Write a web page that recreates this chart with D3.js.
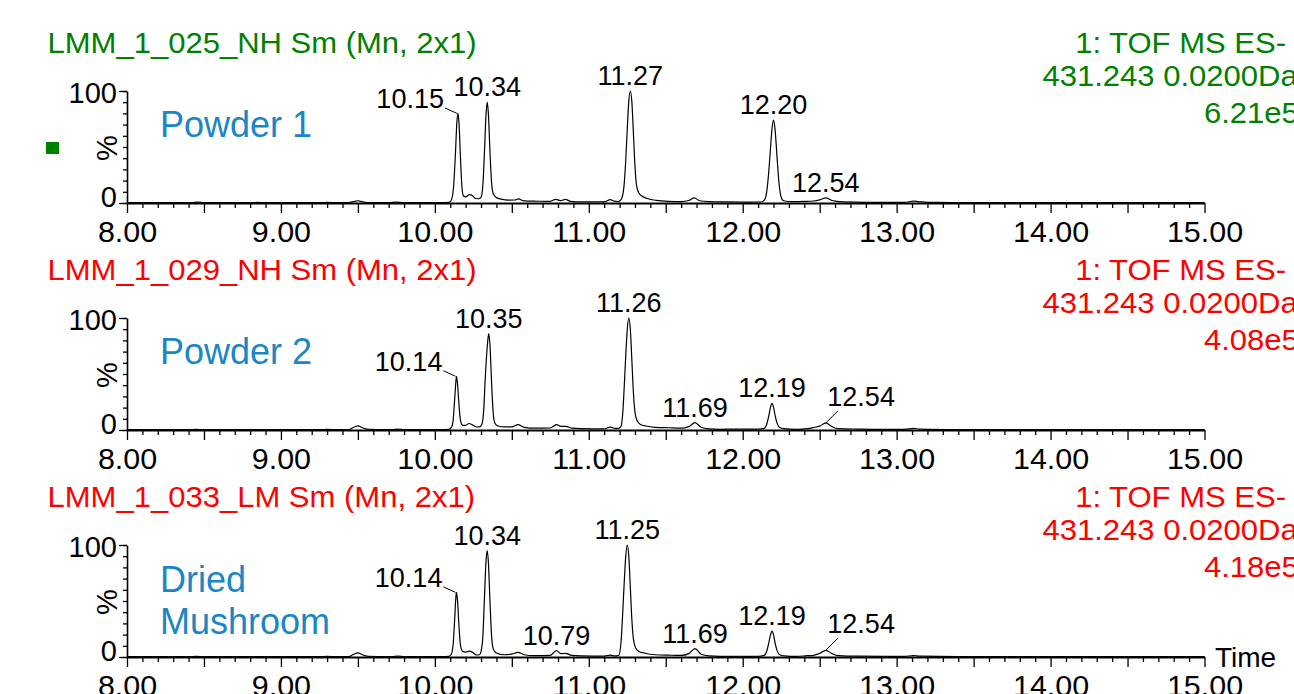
<!DOCTYPE html>
<html><head><meta charset="utf-8">
<script src="https://cdn.jsdelivr.net/npm/d3@7/dist/d3.min.js"></script>
<style>html,body{margin:0;padding:0;background:#fff;overflow:hidden}</style>
</head><body><svg id="chart" width="1294" height="694"></svg>
<script>
// ---------------- data ----------------
const timeTicks = [8, 9, 10, 11, 12, 13, 14, 15];
const timeTickLabels = ["8.00", "9.00", "10.00", "11.00", "12.00", "13.00", "14.00", "15.00"];
const intensityTicks = [0, 100];
const intensityTickLabels = ["0", "100"];
const sampleFiles = ["LMM_1_025_NH Sm (Mn, 2x1)", "LMM_1_029_NH Sm (Mn, 2x1)", "LMM_1_033_LM Sm (Mn, 2x1)"];
const sampleNames = [["Powder 1"], ["Powder 2"], ["Dried", "Mushroom"]];
const functionLabel = "1: TOF MS ES-";
const massWindow = "431.243 0.0200Da";
const maxIntensity = ["6.21e5", "4.08e5", "4.18e5"];
const xAxisTitle = "Time";
const yAxisTitle = "%";

const trace1 = [[8.00,0.3],[8.30,0.3],[8.42,0.4],[8.46,0.8],[8.50,0.3],[8.80,0.3],[8.85,0.6],[8.90,0.3],[9.25,0.3],[9.30,0.6],[9.36,0.3],[9.44,0.3],[9.48,1.5],[9.50,2.0],[9.52,1.4],[9.56,0.4],[9.70,0.3],[9.75,0.8],[9.80,0.3],[10.05,0.3],[10.09,0.5],[10.105,2],[10.12,12],[10.133,42],[10.143,72],[10.15,80],[10.157,71],[10.166,42],[10.175,16],[10.185,6.5],[10.20,5.5],[10.225,7.5],[10.245,6.5],[10.265,4],[10.285,3.8],[10.30,5],[10.312,16],[10.322,45],[10.332,78],[10.34,90],[10.348,79],[10.358,46],[10.368,19],[10.38,8],[10.40,4.8],[10.43,3.5],[10.48,2.6],[10.52,2.7],[10.545,3.6],[10.57,2.2],[10.64,1.6],[10.75,1.5],[10.785,3.3],[10.815,2.2],[10.85,3.2],[10.88,1.5],[10.95,1],[11.10,1],[11.14,3.0],[11.165,1.6],[11.19,1.2],[11.21,3],[11.228,14],[11.24,38],[11.25,66],[11.26,91],[11.27,100],[11.28,90],[11.29,62],[11.30,33],[11.31,16],[11.325,9],[11.345,6.2],[11.38,4],[11.44,2.3],[11.52,1.5],[11.60,1.3],[11.65,2.2],[11.685,4.5],[11.72,2],[11.78,1.3],[11.90,1],[12.05,0.8],[12.12,0.9],[12.14,2.5],[12.155,9],[12.168,26],[12.18,48],[12.19,66],[12.20,74],[12.21,66],[12.222,43],[12.235,19],[12.248,6],[12.265,2],[12.32,1.2],[12.40,1.4],[12.46,1.8],[12.50,2.8],[12.54,4.5],[12.58,2.2],[12.65,1],[12.80,0.6],[13.05,0.6],[13.11,1.6],[13.14,1.3],[13.20,0.6],[13.40,0.4],[14.00,0.3],[15.00,0.3]];

const trace2 = [[8.00,0.3],[8.40,0.3],[8.45,0.6],[8.50,0.3],[9.25,0.3],[9.30,0.5],[9.36,0.3],[9.44,0.4],[9.47,2.2],[9.50,3.6],[9.53,2],[9.57,0.5],[9.72,0.4],[9.76,0.8],[9.80,0.4],[10.05,0.4],[10.09,0.6],[10.105,1.8],[10.118,8],[10.128,26],[10.136,42],[10.14,48],[10.147,42],[10.156,24],[10.166,9],[10.18,4.2],[10.20,4.2],[10.222,5.8],[10.245,4.6],[10.27,2.7],[10.29,2.8],[10.305,5],[10.317,17],[10.327,45],[10.342,77],[10.35,86],[10.358,76],[10.368,44],[10.378,17],[10.39,6],[10.41,3.6],[10.45,2.8],[10.50,2.8],[10.54,4.8],[10.58,2.4],[10.65,1.6],[10.75,1.8],[10.79,4.8],[10.82,3.2],[10.85,3.3],[10.89,1.6],[10.95,1.2],[11.10,1],[11.14,2.6],[11.17,1.5],[11.195,1.5],[11.21,3.5],[11.22,14],[11.23,38],[11.24,66],[11.25,90],[11.26,100],[11.27,90],[11.28,62],[11.29,33],[11.30,16],[11.315,8],[11.335,5],[11.37,3.6],[11.43,2.4],[11.52,2],[11.60,1.6],[11.65,3],[11.69,6.6],[11.73,2.5],[11.78,1],[11.85,0.6],[11.95,0.8],[12.10,0.8],[12.14,1.5],[12.158,6],[12.17,13],[12.18,20],[12.19,23.7],[12.20,20.5],[12.212,12],[12.225,5.5],[12.24,2.2],[12.27,1.2],[12.35,0.6],[12.42,1.2],[12.46,2.2],[12.50,3.5],[12.54,6.3],[12.58,3],[12.62,1.2],[12.75,0.8],[12.85,0.6],[13.05,0.6],[13.11,1.4],[13.15,0.8],[13.40,0.4],[14.00,0.3],[15.00,0.3]];

const trace3 = [[8.00,0.3],[8.40,0.3],[8.45,0.6],[8.50,0.3],[8.85,0.4],[9.25,0.3],[9.30,0.6],[9.36,0.3],[9.44,0.4],[9.47,2.2],[9.50,3.6],[9.53,2],[9.57,0.5],[9.72,0.4],[9.76,0.8],[9.80,0.4],[10.05,0.4],[10.09,0.6],[10.105,2],[10.118,10],[10.128,32],[10.136,52],[10.14,57.7],[10.147,51],[10.156,29],[10.166,11],[10.18,5],[10.20,4.4],[10.225,5.2],[10.245,4.2],[10.27,1.8],[10.29,2],[10.30,5],[10.312,19],[10.322,52],[10.332,85],[10.34,95],[10.348,84],[10.358,50],[10.368,20],[10.38,7],[10.40,3.6],[10.45,2],[10.50,2.6],[10.54,4.2],[10.58,2],[10.65,1.2],[10.75,1.5],[10.79,5.7],[10.82,3],[10.85,3.3],[10.89,1.4],[10.95,1],[11.10,0.8],[11.14,1.6],[11.17,1],[11.195,1.5],[11.21,14],[11.22,38],[11.23,66],[11.24,90],[11.25,100],[11.26,90],[11.27,62],[11.28,33],[11.29,16],[11.305,8],[11.325,5],[11.36,3.6],[11.43,2],[11.52,1.6],[11.60,1.4],[11.65,3],[11.69,7.5],[11.73,2.5],[11.78,1],[11.85,0.6],[12.10,0.6],[12.14,1.5],[12.158,6],[12.17,13],[12.18,19.5],[12.19,23.1],[12.20,20],[12.212,11.5],[12.225,5],[12.24,2],[12.27,1],[12.35,0.5],[12.42,1.2],[12.46,1.5],[12.50,3.2],[12.54,6],[12.58,3],[12.62,1.2],[12.75,0.7],[13.05,0.6],[13.11,1.2],[13.15,0.7],[13.40,0.4],[14.00,0.3],[15.00,0.3]];

const peaks1 = [10.15, 10.34, 11.27, 12.20, 12.54];
const peaks2 = [10.14, 10.35, 11.26, 11.69, 12.19, 12.54];
const peaks3 = [10.14, 10.34, 10.79, 11.25, 11.69, 12.19, 12.54];

// ---------------- layout / style ----------------
const traces = [trace1, trace2, trace3];
const peakSets = [peaks1, peaks2, peaks3];
const labelPlacement = [
  ["left", "top", "top", "top", "top"],
  ["left", "top", "top", "top", "top", "right"],
  ["left", "top", "top", "top", "top", "top", "right"]
];
const titleColors = ["#008000", "#ff0000", "#ff0000"];
const nameColor = "#1b86c5";
const FONT = "'Liberation Sans', Arial, Helvetica, sans-serif";
const panelStep = 227;
const base0 = 203;
const plotH = 112;

const svg = d3.select("#chart");
svg.append("rect").attr("width", 1294).attr("height", 694).attr("fill", "#fff");

const x = d3.scaleLinear().domain([8, 15]).range([127, 1204.5]);
const minorTicks = d3.range(80, 151).filter(d => d % 5 !== 0).map(d => d / 10);
const midTicks = d3.range(85, 150, 10).map(d => d / 10);

traces.forEach((trace, i) => {
  const base = base0 + panelStep * i;
  const y = d3.scaleLinear().domain([0, 100]).range([base, base - plotH]);
  const g = svg.append("g");

  // title (left) and header (right)
  g.append("text").attr("transform", `translate(47.5,${base - 150.5}) scale(1.07,1)`)
    .attr("font-family", FONT).attr("font-size", 29).attr("fill", titleColors[i]).text(sampleFiles[i]);
  g.append("text").attr("transform", `translate(1286,${base - 150.5}) scale(1.07,1)`)
    .attr("text-anchor", "end").attr("font-family", FONT).attr("font-size", 29).attr("fill", titleColors[i]).text(functionLabel);
  g.append("text").attr("transform", `translate(1042.5,${base - 117}) scale(1.07,1)`)
    .attr("font-family", FONT).attr("font-size", 29).attr("fill", titleColors[i]).text(massWindow);
  g.append("text").attr("transform", `translate(1204,${base - 80}) scale(1.07,1)`)
    .attr("font-family", FONT).attr("font-size", 29).attr("fill", titleColors[i]).text(maxIntensity[i]);

  if (i === 0) {
    g.append("rect").attr("x", 46).attr("y", base - 61).attr("width", 13).attr("height", 12).attr("fill", "#008000");
  }

  // sample name
  sampleNames[i].forEach((s, k) => {
    const n = sampleNames[i].length;
    const by = n === 1 ? base - 66 : base - 65 + k * 42;
    g.append("text").attr("x", 160).attr("y", by).attr("font-family", FONT).attr("font-size", 36)
      .attr("fill", nameColor).text(s);
  });

  // y axis
  const gy = g.append("g").attr("transform", "translate(127,0)");
  gy.call(d3.axisLeft(y).tickValues(d3.range(0, 101, 10)).tickSize(4).tickSizeOuter(0).tickFormat(""));
  const gy2 = g.append("g").attr("transform", "translate(127,0)");
  gy2.call(d3.axisLeft(y).tickValues(intensityTicks).tickSize(8).tickPadding(2).tickSizeOuter(0)
    .tickFormat((d, k) => intensityTickLabels[k]));
  gy2.select(".domain").remove();
  gy2.selectAll("text").attr("font-family", FONT).attr("font-size", 29).attr("fill", "#000")
    .attr("dy", d => d === 0 ? "0.12em" : "0.40em");
  [gy, gy2].forEach(a => {
    a.selectAll(".tick line").attr("stroke", "#000").attr("stroke-width", 1.3);
    a.select(".domain").attr("stroke", "#000").attr("stroke-width", 1.6);
  });
  g.append("text").attr("transform", `translate(107,${base - 55}) rotate(-90)`)
    .attr("text-anchor", "middle").attr("dominant-baseline", "central")
    .attr("font-family", FONT).attr("font-size", 29).attr("fill", "#000").text(yAxisTitle);

  // x axis
  const gxMinor = g.append("g").attr("transform", `translate(0,${base})`);
  gxMinor.call(d3.axisBottom(x).tickValues(minorTicks).tickSize(5).tickSizeOuter(0).tickFormat(""));
  gxMinor.select(".domain").remove();
  const gxMid = g.append("g").attr("transform", `translate(0,${base})`);
  gxMid.call(d3.axisBottom(x).tickValues(midTicks).tickSize(10).tickSizeOuter(0).tickFormat(""));
  gxMid.select(".domain").remove();
  const gx = g.append("g").attr("transform", `translate(0,${base})`);
  gx.call(d3.axisBottom(x).tickValues(timeTicks).tickSize(10).tickPadding(8).tickSizeOuter(0)
    .tickFormat((d, k) => timeTickLabels[k]));
  gx.selectAll("text").attr("font-family", FONT).attr("font-size", 29).attr("fill", "#000")
    .attr("transform", "scale(1.05,1)");
  [gxMinor, gxMid, gx].forEach(a => a.selectAll(".tick line").attr("stroke", "#000").attr("stroke-width", 1.3));
  gx.select(".domain").attr("stroke", "#000").attr("stroke-width", 2);

  if (i === traces.length - 1) {
    g.append("text").attr("x", 1215).attr("y", base + 10).attr("font-family", FONT).attr("font-size", 28)
      .attr("fill", "#000").text(xAxisTitle);
  }

  // trace
  const line = d3.line().x(d => x(d[0])).y(d => y(d[1])).curve(d3.curveMonotoneX);
  g.append("path").datum(trace).attr("d", line).attr("fill", "none").attr("stroke", "#000")
    .attr("stroke-width", 1.2).attr("stroke-linejoin", "round");

  // peak labels
  peakSets[i].forEach((t, k) => {
    const pt = trace.find(d => Math.abs(d[0] - t) < 1e-9);
    const px = x(t), py = y(pt[1]);
    const place = labelPlacement[i][k];
    const lab = t.toFixed(2);
    const txt = g.append("text").attr("font-family", FONT).attr("font-size", 27).attr("fill", "#000").text(lab);
    if (place === "top") {
      txt.attr("x", px).attr("y", py - 6).attr("text-anchor", "middle");
    } else if (place === "left") {
      txt.attr("x", px - 14).attr("y", py - 5).attr("text-anchor", "end");
      g.append("line").attr("x1", px - 13).attr("y1", py - 5.5).attr("x2", px - 1).attr("y2", py)
        .attr("stroke", "#000").attr("stroke-width", 1);
    } else {
      txt.attr("x", px + 1.5).attr("y", py - 17).attr("text-anchor", "start");
      g.append("line").attr("x1", px).attr("y1", py).attr("x2", px + 12).attr("y2", py - 12)
        .attr("stroke", "#000").attr("stroke-width", 1);
    }
  });
});
</script></body></html>
